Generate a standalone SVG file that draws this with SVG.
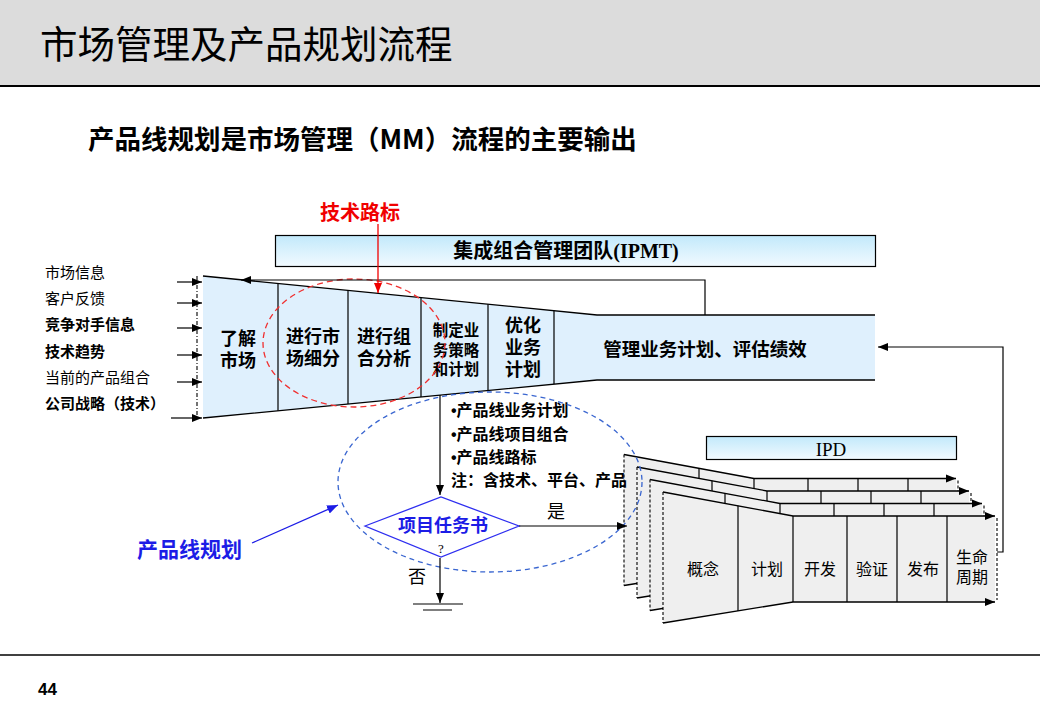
<svg xmlns="http://www.w3.org/2000/svg" xmlns:xlink="http://www.w3.org/1999/xlink" width="1040" height="720" viewBox="0 0 1040 720">
<style>
text{font-family:"Noto Sans CJK SC","Liberation Sans",sans-serif;fill:#000}
.b{font-weight:bold}
.lbl{font-size:18px;font-weight:bold;text-anchor:middle}
.in{font-size:15px}
.ln{fill:none;stroke:#000;stroke-width:1.3}
.dv{fill:none;stroke:#000;stroke-width:1.2}
.dash{fill:none;stroke:#000;stroke-width:1.1;stroke-dasharray:3,2}
.con{fill:none;stroke:#000;stroke-width:1.2}
.st{font-size:16px;text-anchor:middle}
.blue{fill:#1C1CE6}
.bul{font-family:"Liberation Sans",sans-serif}
</style>
<defs>
<linearGradient id="gb" x1="0" y1="0" x2="0" y2="1">
<stop offset="0" stop-color="#C2E9FB"/>
<stop offset="1" stop-color="#F2FAFF"/>
</linearGradient>
<marker id="ak" viewBox="0 0 10 10" refX="10" refY="5" markerWidth="10" markerHeight="10" markerUnits="userSpaceOnUse" orient="auto"><path d="M0,1 L10,5 L0,9 z" fill="#000"/></marker>
<marker id="ar" viewBox="0 0 10 10" refX="10" refY="5" markerWidth="10" markerHeight="10" markerUnits="userSpaceOnUse" orient="auto"><path d="M0,1 L10,5 L0,9 z" fill="#F00000"/></marker>
<marker id="abl" viewBox="0 0 10 10" refX="10" refY="5" markerWidth="11" markerHeight="11" markerUnits="userSpaceOnUse" orient="auto"><path d="M0,1 L10,5 L0,9 z" fill="#1C1CE6"/></marker>
<g id="layer">
<polygon points="663,492 793,516 995,516 995,602 793,602 663,623" fill="#EFEFEF"/>
<path class="ln" d="M663,492 L793,516 H995" marker-end="url(#ak)"/>
<path class="ln" d="M663,623 L793,602 H995" marker-end="url(#ak)"/>
<path class="dash" d="M663,492 V623"/>
<path class="dash" d="M997,518 V600"/>
<path class="dv" d="M738,505.8 V610.9 M793,516 V602 M847,516 V602 M897,516 V602 M947,516 V602"/>
</g>
</defs>

<g id="header">
<rect x="0" y="0" width="1040" height="85" fill="#DCDCDC"/>
<line x1="0" y1="86" x2="1040" y2="86" stroke="#000" stroke-width="2"/>
<text x="40" y="58" font-size="37.5">市场管理及产品规划流程</text>
</g>

<g id="subtitle">
<text x="88" y="149" font-size="26.5" class="b">产品线规划是市场管理（MM）流程的主要输出</text>
</g>

<g id="tech-roadmap-label">
<text x="320" y="220" font-size="20" class="b" style="fill:#F00000">技术路标</text>
</g>

<g id="ipmt">
<rect x="275.5" y="235.5" width="600" height="31" fill="url(#gb)" stroke="#000" stroke-width="1.2"/>
<text x="566" y="258" font-size="20" class="b" text-anchor="middle">集成组合管理团队<tspan font-family="Liberation Serif" style="font-family:'Liberation Serif',serif">(IPMT)</tspan></text>
</g>

<g id="inputs">
<text x="45" y="278" class="in">市场信息</text>
<text x="45" y="304" class="in">客户反馈</text>
<text x="45" y="330" class="in b">竞争对手信息</text>
<text x="45" y="357" class="in b">技术趋势</text>
<text x="45" y="383" class="in">当前的产品组合</text>
<text x="45" y="409" class="in b">公司战略（技术）</text>
</g>

<g id="funnel">
<polygon points="203,276 597,315 875,315 875,380 597,380 203,418" fill="#DFF0FD"/>
<path class="ln" d="M203,276 L597,315 H875"/>
<path class="ln" d="M203,418 L597,380 H875"/>
<path class="dash" d="M197,276 V420" style="stroke-dasharray:4,2,1,2"/>
<path class="dv" d="M278,283.4 V410.8 M348,290.4 V404 M421,297.6 V397 M488,304.2 V390.5 M554,310.7 V384.1"/>
</g>
<g id="step1"><text class="lbl" x="238" y="345">了解</text><text class="lbl" x="238" y="367">市场</text></g>
<g id="step2"><text class="lbl" x="313" y="343">进行市</text><text class="lbl" x="313" y="365">场细分</text></g>
<g id="step3"><text class="lbl" x="384" y="343">进行组</text><text class="lbl" x="384" y="365">合分析</text></g>
<g id="step4"><text class="lbl" x="456" y="336" style="font-size:15.5px">制定业</text><text class="lbl" x="456" y="356" style="font-size:15.5px">务策略</text><text class="lbl" x="456" y="375" style="font-size:15.5px">和计划</text></g>
<g id="step5"><text class="lbl" x="523" y="332">优化</text><text class="lbl" x="523" y="354">业务</text><text class="lbl" x="523" y="376">计划</text></g>
<g id="step6"><text class="lbl" x="705" y="356" style="font-size:18.5px">管理业务计划、评估绩效</text></g>

<g id="ipd">
<rect x="706.5" y="436.5" width="250" height="23" fill="url(#gb)" stroke="#000" stroke-width="1.2"/>
<text x="831" y="456" font-size="19" text-anchor="middle" style="font-family:'Liberation Serif',serif">IPD</text>
</g>

<g id="ipd-stack">
<use xlink:href="#layer" href="#layer" transform="translate(-39,-37.5)"/>
<use xlink:href="#layer" href="#layer" transform="translate(-26,-25)"/>
<use xlink:href="#layer" href="#layer" transform="translate(-13,-12.5)"/>
<use xlink:href="#layer" href="#layer"/>
<text class="st" x="703" y="575">概念</text>
<text class="st" x="767" y="575">计划</text>
<text class="st" x="820" y="575">开发</text>
<text class="st" x="872" y="575">验证</text>
<text class="st" x="923" y="575">发布</text>
<text class="st" x="972" y="563">生命</text>
<text class="st" x="972" y="583">周期</text>
</g>

<g id="outputs">
<text x="451" y="416" font-size="16" class="b"><tspan class="bul">•</tspan>产品线业务计划</text>
<text x="451" y="440" font-size="16" class="b"><tspan class="bul">•</tspan>产品线项目组合</text>
<text x="451" y="463" font-size="16" class="b"><tspan class="bul">•</tspan>产品线路标</text>
<text x="451" y="486" font-size="16" class="b">注：含技术、平台、产品</text>
</g>

<g id="decision">
<polygon points="365,526 441,497 519,526 441,557" fill="#FFFFFF" stroke="#2E2EF0" stroke-width="1.3"/>
<text x="443" y="532" font-size="18" class="b blue" text-anchor="middle">项目任务书</text>
<text x="441" y="553" font-size="13" text-anchor="middle" style="font-family:'Liberation Serif',serif">?</text>
</g>

<g id="pl-label">
<text x="137" y="557" font-size="21" class="b blue">产品线规划</text>
</g>

<g id="highlights">
<ellipse cx="354" cy="343" rx="91" ry="64" fill="none" stroke="#F03030" stroke-width="1.3" stroke-dasharray="6,4"/>
<ellipse cx="490" cy="482" rx="152" ry="90" fill="none" stroke="#3A66D0" stroke-width="1.3" stroke-dasharray="5,4"/>
</g>

<g id="connectors">
<path class="con" d="M177,282 H202" marker-end="url(#ak)"/>
<path class="con" d="M177,303 H202" marker-end="url(#ak)"/>
<path class="con" d="M177,328 H202" marker-end="url(#ak)"/>
<path class="con" d="M177,355 H202" marker-end="url(#ak)"/>
<path class="con" d="M177,382 H202" marker-end="url(#ak)"/>
<path class="con" d="M171,418 H202" marker-end="url(#ak)"/>
<path class="con" d="M705,315 V280 H241" marker-end="url(#ak)"/>
<path d="M378,224 V293" fill="none" stroke="#F00000" stroke-width="1.3" marker-end="url(#ar)"/>
<path class="con" d="M440,395 V495" marker-end="url(#ak)"/>
<path class="con" d="M519,526 H627" marker-end="url(#ak)"/>
<path class="con" d="M440,558 V603" marker-end="url(#ak)"/>
<path class="con" d="M413,604 H463 M423,610 H452"/>
<path d="M252,543 L338,505" fill="none" stroke="#1C1CE6" stroke-width="1.3" marker-end="url(#abl)"/>
<path class="con" d="M997,552 H1003 V347 H878" marker-end="url(#ak)"/>
<text x="547" y="518" font-size="18">是</text>
<text x="408" y="583" font-size="18">否</text>
</g>

<g id="footer">
<line x1="0" y1="655" x2="1040" y2="655" stroke="#000" stroke-width="1.5"/>
<text x="38" y="695" font-size="17" class="b" style="font-family:'Liberation Sans',sans-serif">44</text>
</g>
</svg>
